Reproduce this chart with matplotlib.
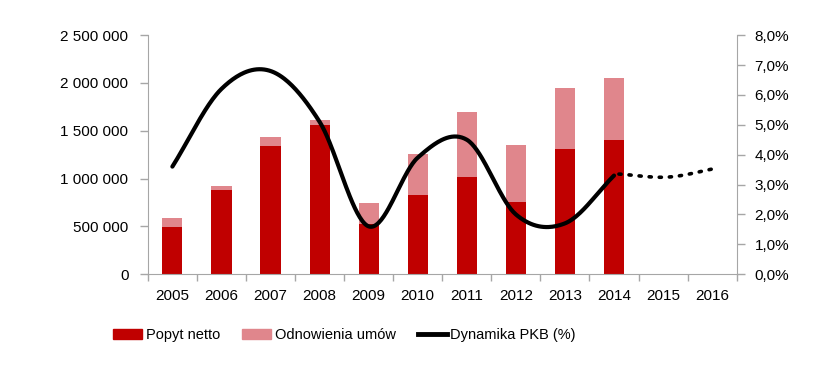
import numpy as np
import matplotlib
matplotlib.use("Agg")
import matplotlib.pyplot as plt
from matplotlib.patches import Patch
from matplotlib.lines import Line2D

plt.rcParams['font.family'] = ['Liberation Sans', 'DejaVu Sans']

years = ['2005', '2006', '2007', '2008', '2009', '2010', '2011', '2012',
         '2013', '2014', '2015', '2016']
popyt_netto = [497000, 880000, 1344000, 1556000, 525000, 830000, 1020000,
               755000, 1306000, 1403000]
odnowienia = [93000, 40000, 86000, 54000, 220000, 427000, 676000,
              595000, 637000, 652000]
pkb = [3.6, 6.2, 6.8, 5.1, 1.6, 3.9, 4.5, 2.0, 1.7, 3.3]
pkb_prognoza = [3.35, 3.25, 3.55]

left_ticks = [0, 500000, 1000000, 1500000, 2000000, 2500000]
right_ticks = [0, 1, 2, 3, 4, 5, 6, 7, 8]

DARK = '#C00000'
PINK = '#E0868C'
GRID = '#A6A6A6'


def smooth(xs, ys, n=40):
    xs = np.asarray(xs, float)
    ys = np.asarray(ys, float)
    px = np.concatenate([[2 * xs[0] - xs[1]], xs, [2 * xs[-1] - xs[-2]]])
    py = np.concatenate([[2 * ys[0] - ys[1]], ys, [2 * ys[-1] - ys[-2]]])
    outx, outy = [], []
    for i in range(1, len(px) - 2):
        t = np.linspace(0, 1, n)
        h00 = 2 * t**3 - 3 * t**2 + 1
        h10 = t**3 - 2 * t**2 + t
        h01 = -2 * t**3 + 3 * t**2
        h11 = t**3 - t**2
        mx0 = (px[i + 1] - px[i - 1]) / 2
        mx1 = (px[i + 2] - px[i]) / 2
        my0 = (py[i + 1] - py[i - 1]) / 2
        my1 = (py[i + 2] - py[i]) / 2
        outx.append(h00 * px[i] + h10 * mx0 + h01 * px[i + 1] + h11 * mx1)
        outy.append(h00 * py[i] + h10 * my0 + h01 * py[i + 1] + h11 * my1)
    return np.concatenate(outx), np.concatenate(outy)


fig = plt.figure(figsize=(8.4, 3.7), dpi=100)
ax = fig.add_axes([0.176, 0.259, 0.701, 0.646])
x = np.arange(len(years))
xb = np.arange(len(popyt_netto))
ax.bar(xb, popyt_netto, width=0.41, color=DARK, zorder=2)
ax.bar(xb, odnowienia, width=0.41, bottom=popyt_netto, color=PINK, zorder=2)
ax.set_xlim(-0.5, len(years) - 0.5)
ax.set_ylim(0, 2500000)
ax.set_yticks(left_ticks)
ax.set_yticklabels([f"{v:,}".replace(',', ' ') for v in left_ticks])
ax.set_xticks(x)
ax.set_xticklabels(years)
ax.set_xticks(np.arange(len(years) + 1) - 0.5, minor=True)
ax.tick_params(axis='x', which='major', length=0, pad=11, labelsize=11)
ax.tick_params(axis='x', which='minor', length=5, color=GRID, width=1)
ax.tick_params(axis='y', length=6, color=GRID, width=1, pad=8, labelsize=11)
for s in ['top', 'right']:
    ax.spines[s].set_visible(False)
for s in ['left', 'bottom']:
    ax.spines[s].set_color(GRID)

ax2 = ax.twinx()
ax2.set_ylim(0, 8)
ax2.set_yticks(right_ticks)
ax2.set_yticklabels([f"{v:.1f}%".replace('.', ',') for v in right_ticks])
ax2.tick_params(axis='y', length=6, color=GRID, width=1, pad=7, labelsize=11)
for s in ['top', 'left', 'bottom']:
    ax2.spines[s].set_visible(False)
ax2.spines['right'].set_color(GRID)

sx, sy = smooth(np.arange(len(pkb)), pkb)
ax2.plot(sx, sy, color='black', lw=3, solid_capstyle='round', zorder=3)
fx, fy = smooth(np.arange(len(pkb) - 1, len(pkb) - 1 + len(pkb_prognoza)) + 0.1, pkb_prognoza)
ax2.plot(fx, fy, color='black', lw=2.6, linestyle=(0, (0.6, 2.2)),
         dash_capstyle='round', zorder=3)

handles = [Patch(color=DARK, label='Popyt netto'),
           Patch(color=PINK, label='Odnowienia umów'),
           Line2D([], [], color='black', lw=3.5, label='Dynamika PKB (%)')]
fig.legend(handles=handles, loc='center', bbox_to_anchor=(0.41, 1 - 335 / 370),
           ncol=3, frameon=False, fontsize=10.5, handlelength=2.0,
           handleheight=0.65, handletextpad=0.25, columnspacing=1.5)

fig.savefig('out.png', dpi=100)
